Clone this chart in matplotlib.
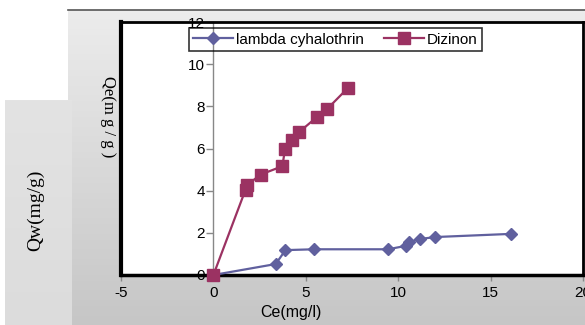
import numpy as np
import matplotlib
matplotlib.use("Agg")
import matplotlib.pyplot as plt
from matplotlib import font_manager

# data
lambda_ce = [0, 3.37, 3.9, 5.45, 9.45, 10.4, 10.6, 11.2, 12.0, 16.1]
lambda_qe = [0, 0.52, 1.18, 1.22, 1.22, 1.38, 1.57, 1.71, 1.80, 1.95]
dizinon_ce = [0, 1.74, 1.83, 2.55, 3.73, 3.88, 4.28, 4.64, 5.6, 6.14, 7.3]
dizinon_qe = [0, 4.05, 4.27, 4.76, 5.16, 5.98, 6.4, 6.78, 7.49, 7.86, 8.89]
series_names = ["lambda cyhalothrin", "Dizinon"]
x_ticks = [-5, 0, 5, 10, 15, 20]
y_ticks = [0, 2, 4, 6, 8, 10, 12]

plt.rcParams["axes.unicode_minus"] = False
names = {f.name for f in font_manager.fontManager.ttflist}
sans = "Liberation Sans Narrow" if "Liberation Sans Narrow" in names else "Liberation Sans"
serif = "Liberation Serif"

W, H = 585, 325
fig = plt.figure(figsize=(W / 100, H / 100), dpi=100)
fig.patch.set_facecolor("white")

# gray gradient background box
bg = fig.add_axes([68 / W, 0, 1 - 68 / W, 1 - 10 / H])
grad = np.linspace(236, 198, 100)[:, None] / 255.0
bg.imshow(np.dstack([grad] * 3), aspect="auto", extent=[0, 1, 0, 1])
bg.set_axis_off()
fig.add_artist(plt.Line2D([68 / W, 1], [1 - 10 / H, 1 - 10 / H],
                          color="#555555", lw=1.2, transform=fig.transFigure))

# left label panel
pn = fig.add_axes([5 / W, 0, 67 / W, 225 / H])
g2 = np.linspace(227, 220, 100)[:, None] / 255.0
pn.imshow(np.dstack([g2] * 3), aspect="auto", extent=[0, 1, 0, 1])
pn.set_axis_off()
fig.text(36 / W, 1 - 210 / H, "Qw(mg/g)", rotation=90, ha="center", va="center",
         fontsize=14, family=serif)

# main plot
ax = fig.add_axes([121 / W, 1 - 275 / H, 462 / W, 253 / H])
ax.set_facecolor("white")
ax.set_xlim(-5, 20)
ax.set_ylim(0, 12)

ax.plot(lambda_ce, lambda_qe, color="#60609e", lw=1.6, marker="D", ms=6.5,
        label=series_names[0], clip_on=False, zorder=3)
ax.plot(dizinon_ce, dizinon_qe, color="#9b3262", lw=1.6, marker="s", ms=8,
        label=series_names[1], clip_on=False, zorder=4)

for s in ["top", "right"]:
    ax.spines[s].set_color("black")
    ax.spines[s].set_linewidth(2)
ax.spines["bottom"].set_color("black")
ax.spines["bottom"].set_linewidth(2.5)
# y axis crosses at x=0, plot border drawn separately on the left
ax.spines["left"].set_position(("data", 0))
ax.spines["left"].set_color("#888888")
ax.spines["left"].set_linewidth(1)
ax.plot([0, 0], [0, 1], transform=ax.transAxes, color="black", lw=3,
        clip_on=False, zorder=5)

ax.set_xticks(x_ticks)
ax.set_yticks(y_ticks)
ax.tick_params(axis="x", direction="out", length=4, width=1, color="#888888",
               pad=4, labelsize=11)
ax.tick_params(axis="y", direction="out", length=5, width=1, color="#888888",
               pad=1, labelsize=11)
for lab in ax.get_xticklabels() + ax.get_yticklabels():
    lab.set_family(sans)

fig.text(291 / W, 1 - 313 / H, "Ce(mg/l)", ha="center", va="center",
         fontsize=11.5, family=sans)
fig.text(108 / W, 1 - 117 / H, "Qe(m g / g )", rotation=270, ha="center",
         va="center", fontsize=12, family=serif)

leg = ax.legend(loc="lower left", bbox_to_anchor=(0.147, 0.885, 0.634, 0.111),
                mode="expand", ncol=2, fancybox=False, borderaxespad=0,
                handlelength=2.6, handletextpad=0.15, columnspacing=1.5,
                borderpad=0.3, prop={"family": sans, "size": 11})
leg.get_frame().set_facecolor("none")
leg.get_frame().set_edgecolor("black")
leg.get_frame().set_linewidth(1.2)

fig.savefig("out.png", dpi=100, facecolor=fig.get_facecolor())
